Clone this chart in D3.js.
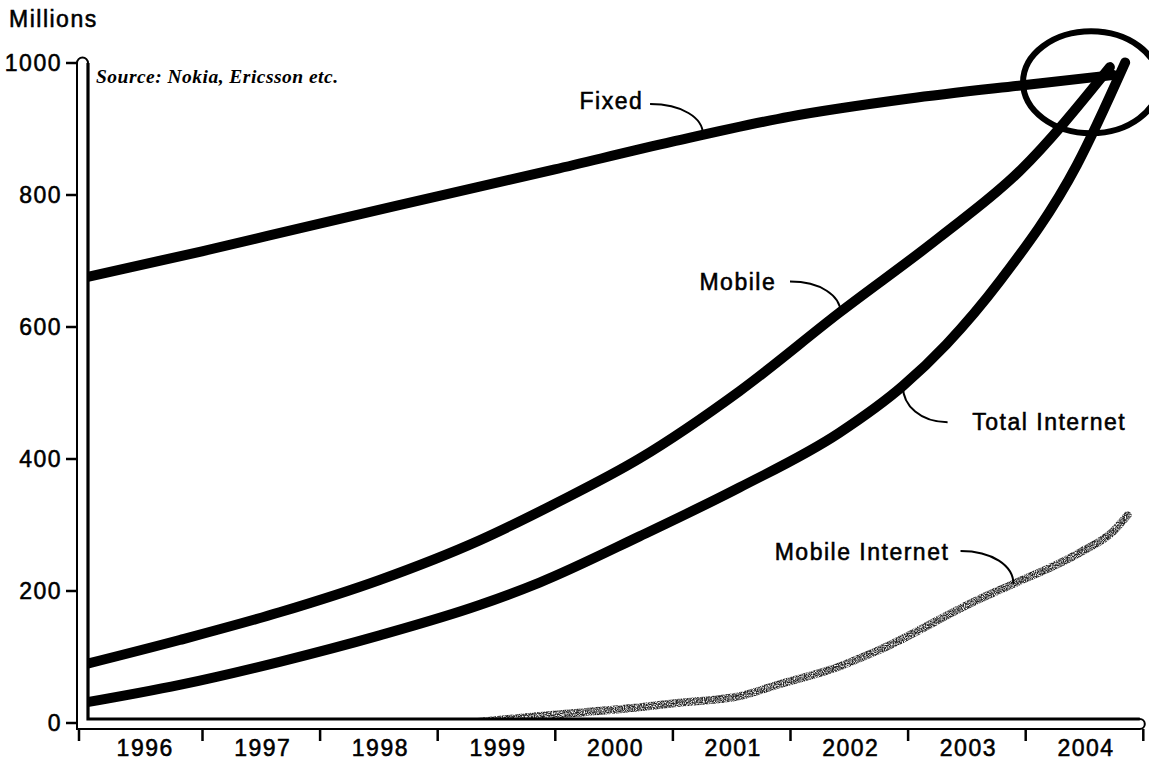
<!DOCTYPE html>
<html>
<head>
<meta charset="utf-8">
<script src="https://cdn.jsdelivr.net/npm/d3@7"></script>
<style>
  html, body { margin: 0; padding: 0; background: #fff; }
  svg { display: block; }
  .lbl { font-family: "Liberation Sans", Arial, Helvetica, sans-serif; font-size: 23px; letter-spacing: 1.5px; fill: #000; stroke: #000; stroke-width: 0.55px; }
</style>
</head>
<body>
<svg id="chart" width="1149" height="763"></svg>
<script>
// ---- data (millions of users, x in fractional years) ----
const years = [1996, 1997, 1998, 1999, 2000, 2001, 2002, 2003, 2004];
const yTicks = [0, 200, 400, 600, 800, 1000];

const fixed = [
  [1996.0, 674], [1997.0, 714], [1998.0, 756], [1999.0, 797], [2000.0, 838],
  [2001.0, 880], [2002.0, 918], [2003.0, 945], [2004.0, 966], [2004.75, 981]
];
const mobile = [
  [1996.0, 88], [1996.81, 125], [1997.66, 167], [1998.51, 216], [1999.36, 276],
  [2000.04, 335], [2000.72, 400], [2001.57, 502], [2002.42, 621], [2003.27, 735],
  [2003.95, 835], [2004.72, 993]
];
const totalInternet = [
  [1996.0, 30], [1996.81, 57], [1997.66, 92], [1998.51, 132], [1999.36, 178],
  [1999.87, 212], [2000.72, 282], [2001.57, 356], [2002.42, 439], [2002.96, 510],
  [2003.33, 573], [2003.79, 670], [2004.44, 845], [2004.85, 1000]
];
const mobileInternet = [
  [1999.3, 0], [1999.87, 10], [2000.72, 23], [2001.06, 30], [2001.57, 40],
  [2001.91, 58], [2002.42, 85], [2002.76, 110], [2003.61, 187], [2003.9, 210],
  [2004.47, 258], [2004.75, 290], [2004.87, 314]
];

// labels: text start, leader start and leader end (on the line), in data units
const annotations = [
  { text: "Fixed",           label: [2000.21, 942], from: [2000.81, 937], to: [2001.26, 891], side: "right" },
  { text: "Mobile",          label: [2001.23, 668], from: [2002.0, 668],  to: [2002.43, 621], side: "right" },
  { text: "Total Internet",  label: [2003.55, 456], from: [2003.34, 455], to: [2002.96, 510], side: "left" },
  { text: "Mobile Internet", label: [2001.87, 258], from: [2003.45, 260], to: [2003.90, 210], side: "right" }
];
const highlight = { center: [2004.56, 970], rx: 68, ry: 51 };

// ---- layout ----
const svg = d3.select("#chart");
const x = d3.scaleLinear().domain([1996, 2005]).range([84.4, 1142.8]);
const y = d3.scaleLinear().domain([0, 1000]).range([722.5, 62.5]);

const axisLeftX = 77, axisInnerX = 88;
const axisTopY = 719, axisBottomY = 729;

const defs = svg.append("defs");
const grain = defs.append("filter").attr("id", "grain")
  .attr("x", "-5%").attr("y", "-5%").attr("width", "110%").attr("height", "110%");
grain.append("feTurbulence").attr("type", "fractalNoise").attr("baseFrequency", 0.9)
  .attr("numOctaves", 2).attr("seed", 4).attr("result", "noise");
grain.append("feColorMatrix").attr("in", "noise").attr("type", "matrix")
  .attr("values", "0 0 0 0 0  0 0 0 0 0  0 0 0 0 0  0 0 0 -2.4 1.85").attr("result", "mask");
grain.append("feComposite").attr("in", "SourceGraphic").attr("in2", "mask").attr("operator", "in");

const line = d3.line()
  .x(d => x(d[0]))
  .y(d => y(d[1]))
  .curve(d3.curveMonotoneX);

// series lines
[fixed, mobile, totalInternet].forEach(s => {
  svg.append("path")
    .attr("d", line(s))
    .attr("fill", "none")
    .attr("stroke", "#000")
    .attr("stroke-width", 10)
    .attr("stroke-linecap", "round")
    .attr("stroke-linejoin", "round");
});
svg.append("path")
  .attr("d", line(mobileInternet))
  .attr("fill", "none")
  .attr("stroke", "#222")
  .attr("stroke-width", 8)
  .attr("stroke-linecap", "round")
  .attr("filter", "url(#grain)");

// hollow L-shaped axis frame
const topY = y(1000) + 0.5;
const rightX = x(2005) - 3;
const r1 = (axisInnerX - axisLeftX) / 2, r2 = (axisBottomY - axisTopY) / 2;
svg.append("path")
  .attr("d", `M${axisLeftX},${axisBottomY} V${topY} A${r1},${r1} 0 0 1 ${axisInnerX},${topY}
              V${axisTopY} H${rightX} A${r2},${r2} 0 0 1 ${rightX},${axisBottomY} Z`)
  .attr("fill", "#fff").attr("stroke", "#000").attr("stroke-width", 2);
svg.append("path")
  .attr("d", `M${axisInnerX},${topY} V${axisTopY} H${rightX}`)
  .attr("fill", "none").attr("stroke", "#000").attr("stroke-width", 3.2);

// y axis ticks and labels
const yAxis = svg.append("g")
  .attr("transform", `translate(${axisLeftX},0)`)
  .call(d3.axisLeft(y).tickValues(yTicks).tickSize(11).tickPadding(4).tickFormat(d3.format("d")));
yAxis.select(".domain").remove();
yAxis.selectAll(".tick line").attr("stroke", "#000").attr("stroke-width", 2.5);
yAxis.selectAll(".tick text").attr("class", "lbl").attr("font-size", null).attr("font-family", null)
  .attr("fill", null).attr("dy", "0.36em");

// x axis ticks at year boundaries, labels centred in each year
const xAxis = svg.append("g")
  .attr("transform", `translate(0,${axisBottomY})`)
  .call(d3.axisBottom(x).tickValues(d3.range(1996, 2006)).tickSize(12).tickFormat(""));
xAxis.select(".domain").remove();
xAxis.selectAll(".tick line").attr("stroke", "#000").attr("stroke-width", 2.5);
xAxis.selectAll(".tick").filter(d => d === 1996).attr("transform", `translate(${axisLeftX + 2},0)`);

svg.append("g").selectAll("text").data(years).join("text")
  .attr("class", "lbl")
  .attr("x", d => x(d + 0.5) + 2)
  .attr("y", 756)
  .attr("text-anchor", "middle")
  .text(d => d);

// unit label and source
svg.append("text").attr("class", "lbl").attr("x", 9).attr("y", 27).text("Millions");
svg.append("text")
  .attr("x", 96).attr("y", 83)
  .attr("font-family", "\"Liberation Serif\", \"Times New Roman\", serif")
  .attr("font-style", "italic").attr("font-weight", "bold")
  .attr("font-size", 19.5)
  .attr("textLength", 242).attr("lengthAdjust", "spacing")
  .text("Source: Nokia, Ericsson etc.");

// annotations with curved leader lines
annotations.forEach(a => {
  svg.append("text").attr("class", "lbl")
    .attr("x", x(a.label[0])).attr("y", y(a.label[1]) + 8)
    .text(a.text);
  const fx = x(a.from[0]), fy = y(a.from[1]);
  const tx = x(a.to[0]), ty = y(a.to[1]);
  const dir = a.side === "right" ? 1 : -1;
  const c1x = fx + dir * Math.abs(tx - fx) * 0.6, c1y = fy;
  const c2x = tx, c2y = ty - (ty - fy) * 0.55;
  svg.append("path")
    .attr("d", `M${fx},${fy} C${c1x},${c1y} ${c2x},${c2y} ${tx},${ty}`)
    .attr("fill", "none").attr("stroke", "#000").attr("stroke-width", 2);
});

// circled convergence point
svg.append("ellipse")
  .attr("cx", x(highlight.center[0])).attr("cy", y(highlight.center[1]))
  .attr("rx", highlight.rx).attr("ry", highlight.ry)
  .attr("fill", "none").attr("stroke", "#000").attr("stroke-width", 6);
</script>
</body>
</html>
